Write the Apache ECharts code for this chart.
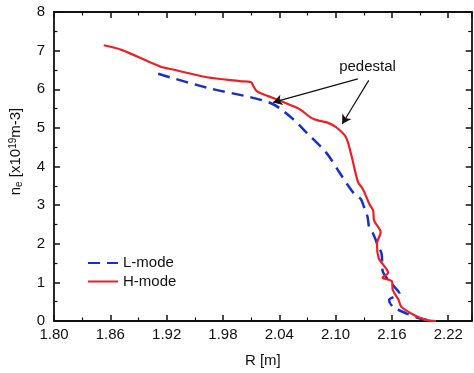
<!DOCTYPE html>
<html>
<head>
<meta charset="utf-8">
<script src="https://cdn.jsdelivr.net/npm/echarts@6/dist/echarts.min.js"></script>
<style>
html,body{margin:0;padding:0;background:#fff;}
#c{width:474px;height:373px;}
</style>
</head>
<body>
<div id="c"></div>
<script>
// ---- data ----
const xTicks = { min: 1.80, max: 2.245, interval: 0.06 };
const yTicks = { min: 0, max: 8, interval: 1 };

const lModeR = [1.911, 1.963, 2.010, 2.030, 2.041, 2.055, 2.069, 2.090, 2.104, 2.113, 2.120, 2.127, 2.131, 2.134, 2.136, 2.140, 2.145, 2.149, 2.150, 2.161, 2.168, 2.157, 2.161, 2.175, 2.189, 2.200];
const lModeN = [6.40, 6.04, 5.79, 5.65, 5.50, 5.22, 4.88, 4.36, 3.85, 3.52, 3.29, 3.15, 2.90, 2.70, 2.40, 2.26, 1.96, 1.74, 1.31, 0.93, 0.71, 0.54, 0.37, 0.20, 0.07, 0.02];

const hModeR = [1.853, 1.872, 1.913, 1.927, 1.963, 1.998, 2.010, 2.012, 2.016, 2.023, 2.035, 2.051, 2.062, 2.074, 2.083, 2.092, 2.101, 2.111, 2.117, 2.124, 2.129, 2.136, 2.140, 2.141, 2.148, 2.144, 2.146, 2.151, 2.156, 2.150, 2.160, 2.161, 2.167, 2.170, 2.184, 2.196, 2.207];
const hModeN = [7.14, 7.02, 6.59, 6.51, 6.31, 6.21, 6.18, 6.10, 5.95, 5.87, 5.76, 5.60, 5.48, 5.26, 5.18, 5.13, 5.01, 4.76, 4.27, 3.59, 3.42, 3.03, 2.86, 2.60, 2.30, 2.00, 1.62, 1.45, 1.25, 1.12, 1.03, 0.80, 0.55, 0.37, 0.15, 0.03, 0.00];

const annotationText = 'pedestal';
const annotationPos = [2.134, 6.58];
const arrowStarts = [[2.1237, 6.27], [2.1353, 6.23]];
const arrowEnds = [[2.0334, 5.66], [2.107, 5.10]];

// ---- build ----
const zip = (a, b) => a.map((v, i) => [v, b[i]]);
const font = "'Liberation Sans', Arial, sans-serif";
const blue = '#1530c8';
const red = '#ee1f24';

const axisCommon = {
  type: 'value',
  axisLine: { show: true, onZero: false, lineStyle: { color: '#111', width: 1.8 } },
  axisTick: { show: true, inside: true, length: 6, lineStyle: { color: '#111', width: 1.5 } },
  minorTick: { show: true, splitNumber: 2, length: 3.5, lineStyle: { color: '#111', width: 1.2 } },
  splitLine: { show: false },
  minorSplitLine: { show: false }
};

const chart = echarts.init(document.getElementById('c'), null, { renderer: 'canvas' });
chart.setOption({
  animation: false,
  backgroundColor: '#fff',
  grid: { left: 53.5, right: 2.3, top: 12, bottom: 50.3, containLabel: false },
  legend: {
    data: ['L-mode', 'H-mode'],
    orient: 'vertical',
    left: 87,
    top: 255.5,
    padding: 0,
    itemWidth: 30,
    itemHeight: 14,
    itemGap: 3.5,
    itemStyle: { opacity: 0 },
    textStyle: { fontFamily: font, fontSize: 15, color: '#111' }
  },
  xAxis: [
    Object.assign({}, axisCommon, {
      position: 'bottom',
      min: xTicks.min, max: xTicks.max, interval: xTicks.interval,
      name: 'R [m]', nameLocation: 'middle', nameGap: 32,
      nameTextStyle: { fontFamily: font, fontSize: 15, color: '#111' },
      axisLabel: { show: true, margin: 6, showMaxLabel: false, fontFamily: font, fontSize: 15, color: '#111',
        formatter: v => v.toFixed(2) }
    }),
    Object.assign({}, axisCommon, {
      position: 'top',
      min: xTicks.min, max: xTicks.max, interval: xTicks.interval,
      axisLabel: { show: false }
    })
  ],
  yAxis: [
    Object.assign({}, axisCommon, {
      position: 'left',
      min: yTicks.min, max: yTicks.max, interval: yTicks.interval,
      name: '{n|n}{sub|e}{n| [x10}{sup|19}{n|m-3]}',
      nameLocation: 'middle', nameGap: 30, nameRotate: 90,
      nameTextStyle: {
        fontFamily: font, fontSize: 15, color: '#111', padding: [0, 0, 0, 30],
        rich: {
          n: { fontFamily: font, fontSize: 15, color: '#111' },
          sub: { fontFamily: font, fontSize: 10, color: '#111', verticalAlign: 'bottom', padding: [6, 0, 0, 0] },
          sup: { fontFamily: font, fontSize: 10, color: '#111', verticalAlign: 'top', padding: [0, 0, 6, 0] }
        }
      },
      axisLabel: { show: true, margin: 9, fontFamily: font, fontSize: 15, color: '#111' }
    }),
    Object.assign({}, axisCommon, {
      position: 'right',
      min: yTicks.min, max: yTicks.max, interval: yTicks.interval,
      axisLabel: { show: false }
    })
  ],
  series: [
    {
      name: 'L-mode', type: 'line', xAxisIndex: 0, yAxisIndex: 0,
      data: zip(lModeR, lModeN),
      showSymbol: false, symbol: 'none', smooth: 0.3,
      color: blue,
      itemStyle: { opacity: 0 },
      lineStyle: { color: blue, width: 2.5, type: [12, 7] },
      z: 3
    },
    {
      name: 'H-mode', type: 'line', xAxisIndex: 0, yAxisIndex: 0,
      data: zip(hModeR, hModeN),
      showSymbol: false, symbol: 'none', smooth: 0.3,
      color: red,
      itemStyle: { opacity: 0 },
      lineStyle: { color: red, width: 2.2 },
      z: 4,
      markLine: {
        silent: true,
        symbol: ['none', 'arrow'],
        symbolSize: [8, 9],
        lineStyle: { color: '#111', width: 1.2, type: 'solid', opacity: 1 },
        itemStyle: { opacity: 1 },
        label: { show: false },
        data: arrowStarts.map((s, i) => [{ coord: s }, { coord: arrowEnds[i] }])
      },
      markPoint: {
        silent: true,
        symbol: 'circle', symbolSize: 0,
        itemStyle: { opacity: 1 },
        label: { show: true, position: 'inside', formatter: annotationText, fontFamily: font, fontSize: 15, color: '#111' },
        data: [{ coord: annotationPos }]
      }
    }
  ]
});
</script>
</body>
</html>
